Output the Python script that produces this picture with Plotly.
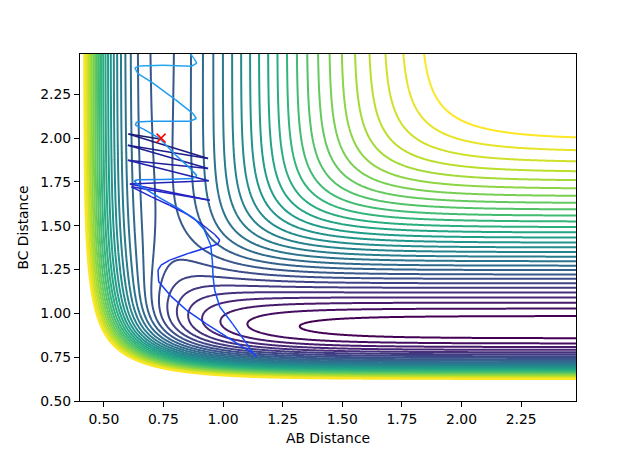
import numpy as np
import plotly.graph_objects as go

# LEPS surface for collinear H(A)-H(B)-F(C), energies in eV, distances in Angstrom
hh_params = {'D': 4.69, 'beta': 1.942, 're': 0.742, 'sato': 0.2}
hf_params = {'D': 6.12, 'beta': 2.219, 're': 0.917, 'sato': 0.167}

ab_axis = np.arange(0.4, 2.4801, 0.005)
bc_axis = np.arange(0.5, 2.4801, 0.005)

# contour levels (eV)
level_start = -6.0
level_step = 0.17
level_count = 30

# trajectory, in time order
traj_ab = [0.735, 0.612, 0.603, 0.937, 0.601, 0.937, 0.601, 0.940, 0.609, 0.944, 0.616,
           0.700, 0.776, 0.850, 0.916, 0.965, 0.986, 0.978, 0.944, 0.860, 0.776, 0.740,
           0.727, 0.730, 0.780, 0.846, 0.930, 1.014, 1.080, 1.126, 1.140,
           1.125, 1.098, 1.040, 0.986, 0.965, 0.958, 0.955, 0.948, 0.920, 0.880, 0.811,
           0.740, 0.680, 0.637, 0.628, 0.643, 0.748, 0.874, 0.890, 0.860, 0.800, 0.734,
           0.668, 0.632, 0.637, 0.700, 0.860, 0.888, 0.874, 0.800, 0.700, 0.643, 0.630,
           0.650, 0.748, 0.867, 0.890, 0.878, 0.860]
traj_bc = [1.995, 2.022, 2.024, 1.884, 1.959, 1.827, 1.874, 1.757, 1.738, 1.646, 1.722,
           1.665, 1.617, 1.565, 1.503, 1.450, 1.418, 1.396, 1.380, 1.345, 1.304, 1.275,
           1.247, 1.180, 1.100, 1.019, 0.940, 0.867, 0.810, 0.772, 0.753,
           0.775, 0.829, 0.940, 1.038, 1.130, 1.209, 1.300, 1.390, 1.480, 1.540, 1.600,
           1.655, 1.705, 1.741, 1.757, 1.762, 1.764, 1.770, 1.786, 1.830, 1.905, 1.998,
           2.050, 2.074, 2.092, 2.096, 2.096, 2.112, 2.140, 2.220, 2.320, 2.368, 2.400,
           2.412, 2.416, 2.410, 2.428, 2.455, 2.485]

start_ab = [0.74]
start_bc = [2.0]


def coulomb_exchange(r, p):
    e1 = np.exp(-p['beta'] * (r - p['re']))
    e2 = e1 * e1
    s = p['sato']
    q = p['D'] / 4 * ((3 + s) * e2 - (2 + 6 * s) * e1) / (1 + s)
    j = p['D'] / 4 * ((1 + 3 * s) * e2 - (6 + 2 * s) * e1) / (1 + s)
    return q, j


AB, BC = np.meshgrid(ab_axis, bc_axis)
q_ab, j_ab = coulomb_exchange(AB, hh_params)
q_bc, j_bc = coulomb_exchange(BC, hf_params)
q_ac, j_ac = coulomb_exchange(AB + BC, hf_params)
V = q_ab + q_bc + q_ac - np.sqrt(0.5 * ((j_ab - j_bc) ** 2 + (j_bc - j_ac) ** 2 + (j_ac - j_ab) ** 2))

level_end = level_start + level_step * (level_count - 1)

fig = go.Figure()
fig.add_trace(go.Contour(
    x=ab_axis, y=bc_axis, z=np.round(V, 4),
    autocontour=False,
    contours=dict(start=level_start, end=level_end + 1e-6, size=level_step, coloring='lines'),
    colorscale='Viridis', zmin=level_start, zmax=level_end, zauto=False,
    line=dict(width=2), showscale=False, hoverinfo='skip'))

# colour the path by time: navy -> blue -> light blue
anchor_pos = [0.0, 0.13, 0.3, 0.55, 0.72, 1.0]
anchor_rgb = [(26, 26, 105), (35, 35, 200), (22, 55, 240), (22, 85, 248), (28, 145, 242), (35, 170, 240)]
n_seg = len(traj_ab) - 1
for i in range(n_seg):
    t = i / (n_seg - 1)
    rgb = [int(round(np.interp(t, anchor_pos, [c[k] for c in anchor_rgb]))) for k in range(3)]
    fig.add_trace(go.Scatter(
        x=traj_ab[i:i + 2], y=traj_bc[i:i + 2], mode='lines',
        line=dict(color='rgb({},{},{})'.format(*rgb), width=1.5),
        showlegend=False, hoverinfo='skip', cliponaxis=True))

fig.add_trace(go.Scatter(
    x=start_ab, y=start_bc, mode='markers',
    marker=dict(symbol='x-thin', size=9, line=dict(color='red', width=1.5), color='red'),
    showlegend=False, hoverinfo='skip'))

label_font = dict(family='DejaVu Sans', size=13.9, color='black')
axis_style = dict(showline=True, linecolor='black', linewidth=1.1, mirror=True,
                  ticks='outside', ticklen=5, tickwidth=1.1, tickcolor='black',
                  showgrid=False, zeroline=False, tickformat='.2f',
                  tickfont=label_font, automargin=False)

# the page body adds an 8px margin, so the figure is 8px smaller on each side
fig.update_layout(
    width=632, height=443,
    margin=dict(l=72, r=64, t=46, b=50),
    paper_bgcolor='white', plot_bgcolor='white',
    font=label_font,
    showlegend=False,
    xaxis=dict(range=[0.4, 2.48], tickvals=[0.5, 0.75, 1.0, 1.25, 1.5, 1.75, 2.0, 2.25],
               title=dict(text='AB Distance', standoff=7, font=label_font), **axis_style),
    yaxis=dict(range=[0.5, 2.48], tickvals=[0.5, 0.75, 1.0, 1.25, 1.5, 1.75, 2.0, 2.25],
               title=dict(text='BC Distance', standoff=8, font=label_font), **axis_style),
)

fig.write_html("out.html")
